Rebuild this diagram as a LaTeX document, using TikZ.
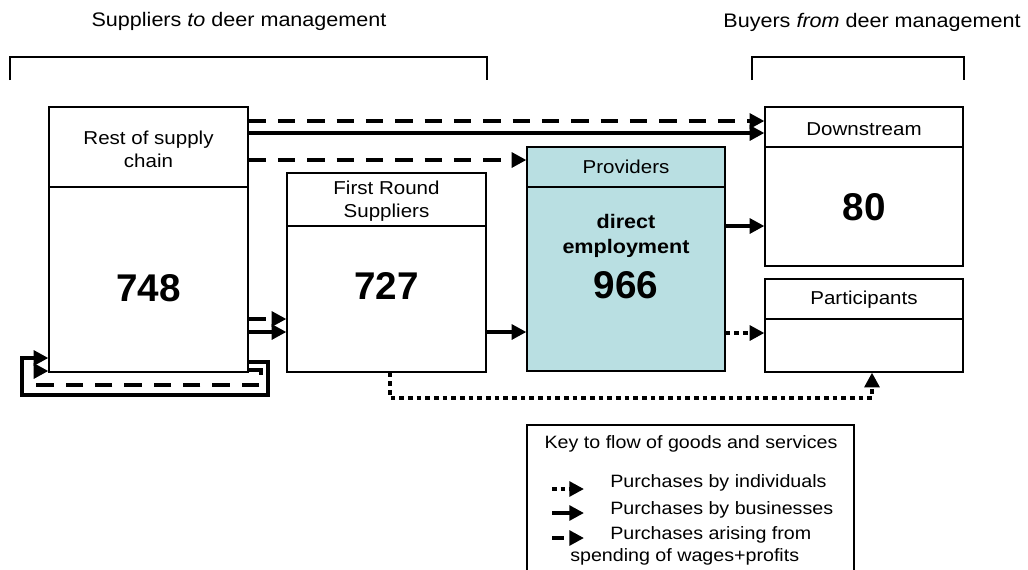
\documentclass[tikz,border=0pt]{standalone}
\usepackage{fontspec}
\setmainfont[FakeStretch=1.1]{Liberation Sans}
\newfontfamily\numfont{Liberation Sans}
\usepackage{xcolor}
\usetikzlibrary{positioning, arrows.meta, fit}
\definecolor{provteal}{HTML}{B9DFE2}
\newcommand{\bignum}[1]{{\numfont\fontsize{29}{31}\selectfont\bfseries #1}}

\begin{document}
\begin{tikzpicture}[x=0.75pt, y=-0.75pt,
    every node/.style={font=\fontsize{14}{17.3}\selectfont},
    box/.style={draw, line width=0.9pt, inner sep=0pt},
    hdr/.style={align=center, inner sep=0pt},
    keytext/.style={anchor=west, inner sep=0pt, font=\fontsize{13.4}{15}\selectfont},
    flow/.style={line width=3.5pt, -{Triangle[length=11pt, width=11pt]}},
    biz/.style={flow},
    wage/.style={flow, dash pattern=on 13pt off 9pt},
    indiv/.style={flow, dash pattern=on 3.5pt off 3pt},
    bracket/.style={line width=2pt}]
  \useasboundingbox (0,0) rectangle (1028,569);

  % group titles and brackets
  \node (suptitle) at (239,21) {\fontsize{14.7}{16}\selectfont Suppliers \textit{to} deer management};
  \node (buytitle) at (872,22) {\fontsize{14.7}{16}\selectfont Buyers \textit{from} deer management};
  \draw[bracket] (10,80) |- (487,57) -- (487,80);
  \draw[bracket] (752,80) |- (964,57) -- (964,80);

  % boxes
  \node[box, fit={(49,107) (248,372)}] (rest) {};
  \draw[line width=0.9pt] (rest.west |- 0,187) -- (rest.east |- 0,187);
  \node[box, fit={(287,173) (486,372)}] (first) {};
  \draw[line width=0.9pt] (first.west |- 0,226) -- (first.east |- 0,226);
  \node[box, fill=provteal, fit={(527,147) (725,371)}] (prov) {};
  \draw[line width=0.9pt] (prov.west |- 0,187) -- (prov.east |- 0,187);
  \node[box, fit={(765,107) (963,266)}] (down) {};
  \draw[line width=0.9pt] (down.west |- 0,147) -- (down.east |- 0,147);
  \node[box, fit={(765,279) (963,372)}] (part) {};
  \draw[line width=0.9pt] (part.west |- 0,319) -- (part.east |- 0,319);

  % box texts
  \node[hdr] (restname) at (148.5,149) {Rest of supply\\chain};
  \node (restnum) at (148.5,288) {\bignum{748}};
  \node[hdr] (firstname) at (386.5,201) {First Round\\Suppliers};
  \node (firstnum) at (386.5,286) {\bignum{727}};
  \node (provname) at (626,167) {Providers};
  \node[hdr, font=\fontsize{14.7}{18.7}\selectfont\bfseries] (provjob) at (626,236) {direct\\employment};
  \node (provnum) at (626,285) {\bignum{966}};
  \node (downname) at (864,129) {Downstream};
  \node (downnum) at (864,207) {\bignum{80}};
  \node (partname) at (864,300) {Participants};

  % flows
  \draw[wage] (rest.east |- 0,121) -- (down.west |- 0,121);
  \draw[biz] (rest.east |- 0,133) -- (down.west |- 0,133);
  \draw[wage] (rest.east |- 0,160) -- (prov.west |- 0,160);
  \draw[wage] (rest.east |- 0,319) -- (first.west |- 0,319);
  \draw[biz] (rest.east |- 0,332) -- (first.west |- 0,332);
  \draw[biz] (first.east |- 0,332) -- (prov.west |- 0,332);
  \draw[biz] (prov.east |- 0,226) -- (down.west |- 0,226);
  \draw[indiv] (prov.east |- 0,333) -- (part.west |- 0,333);
  \draw[indiv] (first.south -| 390,0) -- (390,398) -- (872,398) -- (part.south -| 872,0);
  \draw[biz] (rest.east |- 0,362) -- (268,362) -- (268,395) -- (22,395) -- (22,358) -- (rest.west |- 0,358);
  \draw[wage] (rest.east |- 0,370) -- (261,370) -- (261,385) -- (36,385) -- (36,371) -- (rest.west |- 0,371);

  % key
  \node[draw, line width=1.2pt, inner sep=0pt, fit={(527,425) (854,580)}] (key) {};
  \node[font=\fontsize{13.4}{15}\selectfont] (keytitle) at (691,444) {Key to flow of goods and services};
  \node[keytext] (keyind) at (610,483) {Purchases by individuals};
  \node[keytext] (keybiz) at (610,510) {Purchases by businesses};
  \node[keytext] (keywage) at (610,535) {Purchases arising from};
  \node[keytext] (keywage2) at (570,557) {spending of wages+profits};
  \coordinate (k1a) at (552,489); \coordinate (k1b) at (584,489);
  \coordinate (k2a) at (552,513); \coordinate (k2b) at (584,513);
  \coordinate (k3a) at (552,538); \coordinate (k3b) at (584,538);
  \draw[indiv] (k1a) -- (k1b);
  \draw[biz] (k2a) -- (k2b);
  \draw[wage, dash pattern=on 9pt off 6pt] (k3a) -- (k3b);
\end{tikzpicture}
\end{document}
